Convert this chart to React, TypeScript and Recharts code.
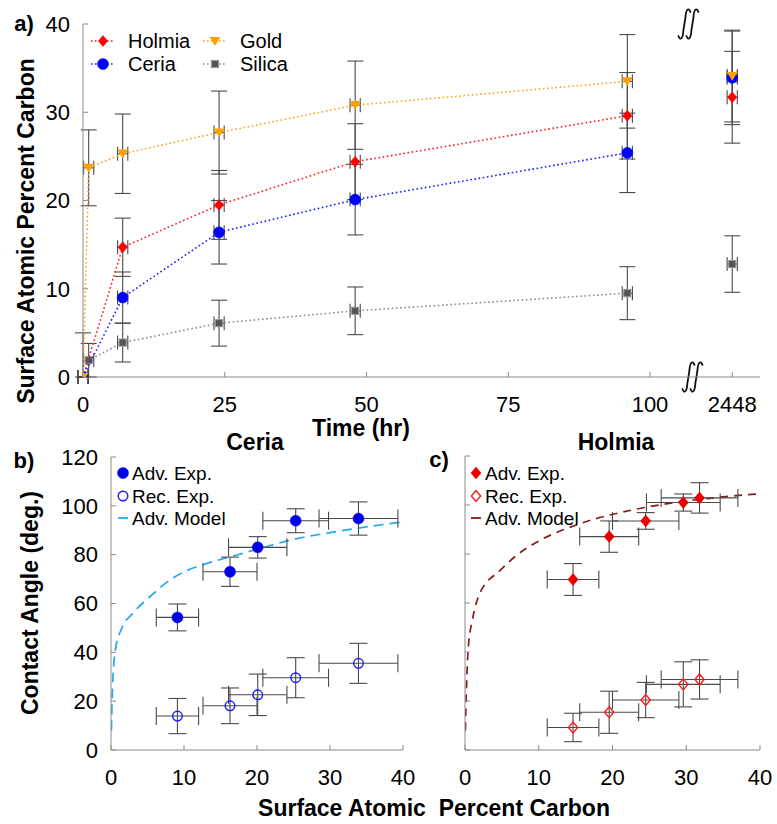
import React from "react"
import {
  ComposedChart,
  Scatter,
  Line,
  XAxis,
  YAxis,
  ErrorBar,
  ReferenceLine,
} from "recharts"

const FONT = "'Liberation Sans', Arial, sans-serif"
const FRAME = "#8a8a8a"
const BAR = "#4a4a4a"

// ---- panel a: carbon uptake vs time (2448 h sits past an axis break) ----
const timeTicks = [0, 25, 50, 75, 100, 114.5]
const timeTopTicks = [0, 25, 50, 75, 100]
const longTimePos = 114.5 // axis position of the 2448 h point
const breakPos = 107.3
const timeErr = 0.9

const holmiaTime = [0, 7, 24, 48, 96]
const holmiaCarbon = [0, 14.7, 19.5, 24.4, 29.6]
const holmiaErr = [0, 3.3, 3.9, 4.3, 4.9]
const holmiaLong = 31.7
const holmiaLongErr = 5.2

const ceriaTime = [0, 7, 24, 48, 96]
const ceriaCarbon = [0, 9.0, 16.4, 20.1, 25.4]
const ceriaErr = [0, 2.9, 3.6, 4.0, 4.5]
const ceriaLong = 33.9
const ceriaLongErr = 5.3

const goldTime = [0, 1, 7, 24, 48, 96]
const goldCarbon = [0, 23.7, 25.3, 27.7, 30.8, 33.5]
const goldErr: (number | number[])[] = [[0, 5], 4.3, 4.5, 4.7, 5.0, 5.3]
const goldLong = 34.1
const goldLongErr = 5.2

const silicaTime = [0, 1, 7, 24, 48, 96]
const silicaCarbon = [0, 1.9, 3.9, 6.1, 7.5, 9.5]
const silicaErr = [0, 1.9, 2.2, 2.6, 2.7, 3.0]
const silicaLong = 12.8
const silicaLongErr = 3.2

// ---- panels b, c: contact angle vs surface carbon ----
const ceriaC = [9.1, 16.3, 20.1, 25.3, 33.9]
const ceriaCErr = [2.9, 3.7, 4.0, 4.5, 5.4]
const ceriaAdv = [54.3, 73.0, 83.0, 93.9, 94.8]
const ceriaAdvErr = [5.5, 6.0, 4.4, 4.9, 6.8]
const ceriaRec = [13.9, 18.1, 22.6, 29.6, 35.5]
const ceriaRecErr = [7.2, 7.3, 8.5, 8.2, 8.2]
const ceriaModelC = [0.05, 0.2, 0.6, 1.5, 3, 5.8, 8, 10.4, 12.7, 16.8, 20, 25.3, 30, 33.9, 40]
const ceriaModelAngle = [8, 25, 41, 50, 56, 64, 69.5, 73.5, 76, 79.5, 82.2, 86.5, 89, 90.9, 93.4]

const holmiaC = [14.65, 19.55, 24.5, 29.6, 31.8]
const holmiaCErr = [3.5, 4.0, 4.5, 5.0, 5.2]
const holmiaAdv = [69.6, 87.1, 93.5, 101.0, 102.9]
const holmiaAdvErr = [6.5, 6.4, 3.4, 3.5, 6.2]
const holmiaRec = [9.2, 15.4, 20.4, 26.8, 28.8]
const holmiaRecErr = [5.8, 8.6, 7.2, 9.2, 8.0]
const holmiaModelC = [0.05, 0.2, 0.45, 1, 2, 4.8, 7, 10.2, 15.6, 22.9, 29.7, 35, 40]
const holmiaModelAngle = [8, 25, 42, 53, 63.9, 73.4, 79.5, 85.6, 92.4, 98.1, 101.5, 103.3, 104.6]

const carbonTicks = [0, 10, 20, 30, 40]
const angleTicks = [0, 20, 40, 60, 80, 100, 120]
const percentTicks = [0, 10, 20, 30, 40]

const pts = (xs: number[], ys: number[], ey: any[], ex: number[] | number) =>
  xs.map((x, i) => ({ x, y: ys[i], ey: ey[i], ex: Array.isArray(ex) ? ex[i] : ex }))

const timeLabel = (v: number) => (v === longTimePos ? "2448" : String(v))
const blank = () => ""

type P = { cx?: number; cy?: number }

const diamond = (color: string, r: number, hollow = false) => (p: P) => {
  const { cx = 0, cy = 0 } = p
  const w = r * 0.85
  return (
    <path
      d={`M${cx},${cy - r}L${cx + w},${cy}L${cx},${cy + r}L${cx - w},${cy}Z`}
      fill={hollow ? "none" : color}
      stroke={color}
      strokeWidth={hollow ? 1.4 : 0.5}
    />
  )
}
const circle = (color: string, r: number, hollow = false) => (p: P) => (
  <circle
    cx={p.cx}
    cy={p.cy}
    r={r}
    fill={hollow ? "none" : color}
    stroke={color}
    strokeWidth={hollow ? 1.4 : 0.5}
  />
)
const triDown = (color: string, r: number) => (p: P) => {
  const { cx = 0, cy = 0 } = p
  return (
    <path
      d={`M${cx - r},${cy - r * 0.75}L${cx + r},${cy - r * 0.75}L${cx},${cy + r * 0.85}Z`}
      fill={color}
    />
  )
}
const square = (color: string, r: number) => (p: P) => {
  const { cx = 0, cy = 0 } = p
  return <rect x={cx - r} y={cy - r} width={r * 2} height={r * 2} fill={color} stroke="#9a9a9a" strokeWidth={1} />
}

const topSeries = [
  {
    name: "Silica",
    color: "#8c8c8c",
    shape: square("#555", 3.6),
    data: pts(silicaTime, silicaCarbon, silicaErr, timeErr),
    long: [{ x: longTimePos, y: silicaLong, ey: silicaLongErr, ex: timeErr }],
  },
  {
    name: "Holmia",
    color: "#ff1a1a",
    shape: diamond("#ff0000", 5.5),
    data: pts(holmiaTime, holmiaCarbon, holmiaErr, timeErr),
    long: [{ x: longTimePos, y: holmiaLong, ey: holmiaLongErr, ex: timeErr }],
  },
  {
    name: "Ceria",
    color: "#1a1aff",
    shape: circle("#0000ff", 5.5),
    data: pts(ceriaTime, ceriaCarbon, ceriaErr, timeErr),
    long: [{ x: longTimePos, y: ceriaLong, ey: ceriaLongErr, ex: timeErr }],
  },
  {
    name: "Gold",
    color: "#ffa31a",
    shape: triDown("#ffa000", 5.5),
    data: pts(goldTime, goldCarbon, goldErr, timeErr),
    long: [{ x: longTimePos, y: goldLong, ey: goldLongErr, ex: timeErr }],
  },
]

const legendA = [
  { name: "Holmia", col: 0, row: 0 },
  { name: "Gold", col: 1, row: 0 },
  { name: "Ceria", col: 0, row: 1 },
  { name: "Silica", col: 1, row: 1 },
]

function BreakMark(props: any) {
  const vb = props.viewBox || {}
  const x = vb.x ?? 0
  const y0 = vb.y ?? 0
  const y1 = y0 + (vb.height ?? 0)
  const s = (cx: number, cy: number) =>
    `M${cx - 6},${cy + 12} C${cx - 4},${cy + 17} ${cx - 1.5},${cy + 15} ${cx - 1},${cy + 6} L${cx + 1},${cy - 6} C${cx + 1.5},${cy - 15} ${cx + 4},${cy - 17} ${cx + 6},${cy - 12}`
  return (
    <g fill="none" stroke="#111" strokeWidth={1.8} strokeLinecap="round">
      <path d={s(x - 7, y0)} />
      <path d={s(x + 1, y0)} />
      <path d={s(x - 3, y1)} />
      <path d={s(x + 5, y1)} />
    </g>
  )
}

const tickFont = { fill: "#000", fontSize: 22 }

function PanelA() {
  return (
    <ComposedChart width={777} height={430} margin={{ top: 24, right: 17, left: 0, bottom: 0 }}>
      <XAxis
        type="number"
        dataKey="x"
        domain={[0, 119.4]}
        allowDataOverflow
        ticks={timeTicks}
        interval={0}
        tickFormatter={timeLabel}
        height={53}
        tickSize={-5}
        tickMargin={24}
        stroke={FRAME}
        tick={tickFont}
      />
      <XAxis
        xAxisId="top"
        orientation="top"
        type="number"
        domain={[0, 119.4]}
        allowDataOverflow
        ticks={timeTopTicks}
        interval={0}
        tickFormatter={blank}
        height={0}
        tickSize={-5}
        stroke={FRAME}
      />
      <YAxis
        type="number"
        dataKey="y"
        domain={[0, 40]}
        allowDataOverflow
        ticks={[0, 10, 20, 30, 40]}
        interval={0}
        width={83}
        tickSize={-5}
        tickMargin={18}
        stroke={FRAME}
        tick={tickFont}
      />
      <YAxis
        yAxisId="right"
        orientation="right"
        type="number"
        domain={[0, 40]}
        allowDataOverflow
        ticks={[0, 10, 20, 30, 40]}
        interval={0}
        width={0}
        tickSize={-5}
        tickFormatter={blank}
        stroke={FRAME}
      />
      <ReferenceLine x={breakPos} stroke="none" label={<BreakMark />} />
      {topSeries.map((s) => (
        <Scatter
          key={s.name}
          name={s.name}
          data={s.data}
          shape={s.shape}
          line={{ stroke: s.color, strokeWidth: 1.6, strokeDasharray: "1.6 2.6" }}
          lineType="joint"
          isAnimationActive={false}
        >
          <ErrorBar dataKey="ey" direction="y" width={8} stroke={BAR} strokeWidth={1.1} />
          <ErrorBar dataKey="ex" direction="x" width={7} stroke={BAR} strokeWidth={1.1} />
        </Scatter>
      ))}
      {topSeries.map((s) => (
        <Scatter key={s.name + "-long"} data={s.long} shape={s.shape} isAnimationActive={false}>
          <ErrorBar dataKey="ey" direction="y" width={8} stroke={BAR} strokeWidth={1.1} />
          <ErrorBar dataKey="ex" direction="x" width={7} stroke={BAR} strokeWidth={1.1} />
        </Scatter>
      ))}
    </ComposedChart>
  )
}

function AnglePanel({
  carbon,
  carbonErr,
  adv,
  advErr,
  rec,
  recErr,
  modelC,
  modelAngle,
  advShape,
  recShape,
  modelColor,
  dash,
  width,
  axisWidth,
  top,
  showY,
}: any) {
  const model = modelC.map((x: number, i: number) => ({ x, y: modelAngle[i] }))
  return (
    <ComposedChart width={width} height={394} margin={{ top, right: 17, left: 0, bottom: 0 }}>
      <XAxis
        type="number"
        dataKey="x"
        domain={[0, 40]}
        allowDataOverflow
        ticks={carbonTicks}
        interval={0}
        height={74}
        tickSize={-5}
        tickMargin={24}
        stroke={FRAME}
        tick={tickFont}
      />
      <XAxis
        xAxisId="top"
        orientation="top"
        type="number"
        domain={[0, 40]}
        allowDataOverflow
        ticks={percentTicks}
        interval={0}
        height={0}
        tickSize={-5}
        tickFormatter={blank}
        stroke={FRAME}
      />
      <YAxis
        type="number"
        dataKey="y"
        domain={[0, 120]}
        allowDataOverflow
        ticks={angleTicks}
        interval={0}
        width={axisWidth}
        tickSize={-5}
        tickMargin={18}
        tickFormatter={showY ? undefined : blank}
        stroke={FRAME}
        tick={tickFont}
      />
      <YAxis
        yAxisId="right"
        orientation="right"
        type="number"
        domain={[0, 120]}
        allowDataOverflow
        ticks={angleTicks}
        interval={0}
        width={0}
        tickSize={-5}
        tickFormatter={blank}
        stroke={FRAME}
      />
      <Line
        data={model}
        dataKey="y"
        type="monotone"
        dot={false}
        stroke={modelColor}
        strokeWidth={1.7}
        strokeDasharray={dash}
        isAnimationActive={false}
      />
      <Scatter data={pts(carbon, rec, recErr, carbonErr)} shape={recShape} isAnimationActive={false}>
        <ErrorBar dataKey="ey" direction="y" width={9} stroke={BAR} strokeWidth={1.1} />
        <ErrorBar dataKey="ex" direction="x" width={9} stroke={BAR} strokeWidth={1.1} />
      </Scatter>
      <Scatter data={pts(carbon, adv, advErr, carbonErr)} shape={advShape} isAnimationActive={false}>
        <ErrorBar dataKey="ey" direction="y" width={9} stroke={BAR} strokeWidth={1.1} />
        <ErrorBar dataKey="ex" direction="x" width={9} stroke={BAR} strokeWidth={1.1} />
      </Scatter>
    </ComposedChart>
  )
}

function Txt({ x, y, size = 23, bold = true, rotate = false, children }: any) {
  return (
    <div
      style={{
        position: "absolute",
        left: x,
        top: y,
        transform: `translate(-50%, -50%)${rotate ? " rotate(-90deg)" : ""}`,
        fontSize: size,
        fontWeight: bold ? 700 : 400,
        lineHeight: 1,
        whiteSpace: "pre",
        color: "#000",
      }}
    >
      {children}
    </div>
  )
}

function LegendRow({ x, y, textX, size, icon, label }: any) {
  return (
    <>
      <svg style={{ position: "absolute", left: x - 14, top: y - 8 }} width={28} height={16}>
        {icon}
      </svg>
      <div
        style={{
          position: "absolute",
          left: textX,
          top: y,
          transform: "translateY(-50%)",
          fontSize: size,
          lineHeight: 1,
          whiteSpace: "pre",
        }}
      >
        {label}
      </div>
    </>
  )
}

export default function App() {
  const byName = Object.fromEntries(topSeries.map((s) => [s.name, s]))
  return (
    <div
      style={{
        position: "absolute",
        left: 0,
        top: 0,
        width: 777,
        height: 824,
        background: "#fff",
        fontFamily: FONT,
        overflow: "hidden",
      }}
    >
      <div style={{ position: "absolute", left: 0, top: 0 }}>
        <PanelA />
      </div>
      <div style={{ position: "absolute", left: 0, top: 430 }}>
        <AnglePanel
          carbon={ceriaC}
          carbonErr={ceriaCErr}
          adv={ceriaAdv}
          advErr={ceriaAdvErr}
          rec={ceriaRec}
          recErr={ceriaRecErr}
          modelC={ceriaModelC}
          modelAngle={ceriaModelAngle}
          advShape={circle("#0000e6", 5.5)}
          recShape={circle("#1a1aff", 4.8, true)}
          modelColor="#1faaf0"
          dash="10 6"
          width={420}
          axisWidth={111}
          top={27}
          showY
        />
      </div>
      <div style={{ position: "absolute", left: 420, top: 430 }}>
        <AnglePanel
          carbon={holmiaC}
          carbonErr={holmiaCErr}
          adv={holmiaAdv}
          advErr={holmiaAdvErr}
          rec={holmiaRec}
          recErr={holmiaRecErr}
          modelC={holmiaModelC}
          modelAngle={holmiaModelAngle}
          advShape={diamond("#e60000", 6)}
          recShape={diamond("#ff1a1a", 5.5, true)}
          modelColor="#8b1a1a"
          dash="8 6"
          width={357}
          axisWidth={45}
          top={26}
          showY={false}
        />
      </div>

      {legendA.map((l) => {
        const s = byName[l.name]
        const x = l.col === 0 ? 103 : 215
        const y = l.row === 0 ? 40.5 : 63.5
        return (
          <LegendRow
            key={l.name}
            x={x}
            y={y}
            textX={l.col === 0 ? 128 : 240}
            size={20}
            label={l.name}
            icon={
              <>
                <line x1={2} y1={8} x2={26} y2={8} stroke={s.color} strokeWidth={1.6} strokeDasharray="1.6 2.4" />
                {s.shape({ cx: 14, cy: 8 })}
              </>
            }
          />
        )
      })}

      <LegendRow x={123} y={473} textX={132} size={19} label="Adv. Exp." icon={circle("#0000e6", 5.5)({ cx: 14, cy: 8 })} />
      <LegendRow x={123} y={496} textX={132} size={19} label="Rec. Exp." icon={circle("#1a1aff", 4.8, true)({ cx: 14, cy: 8 })} />
      <LegendRow
        x={123}
        y={518}
        textX={132}
        size={19}
        label="Adv. Model"
        icon={<line x1={9} y1={8} x2={19} y2={8} stroke="#1faaf0" strokeWidth={1.8} />}
      />
      <LegendRow x={476} y={473} textX={485} size={19} label="Adv. Exp." icon={diamond("#e60000", 6)({ cx: 14, cy: 8 })} />
      <LegendRow x={476} y={496} textX={485} size={19} label="Rec. Exp." icon={diamond("#ff1a1a", 5.5, true)({ cx: 14, cy: 8 })} />
      <LegendRow
        x={476}
        y={518}
        textX={485}
        size={19}
        label="Adv. Model"
        icon={<line x1={9} y1={8} x2={19} y2={8} stroke="#8b1a1a" strokeWidth={1.8} />}
      />

      <Txt x={24} y={24} size={22}>a)</Txt>
      <Txt x={26} y={231} rotate>Surface Atomic Percent Carbon</Txt>
      <Txt x={361} y={428}>Time (hr)</Txt>
      <Txt x={24} y={461} size={22}>b)</Txt>
      <Txt x={439} y={460} size={22}>c)</Txt>
      <Txt x={255} y={442}>Ceria</Txt>
      <Txt x={616} y={442}>Holmia</Txt>
      <Txt x={30} y={603} rotate>Contact Angle (deg.)</Txt>
      <Txt x={434} y={808}>{"Surface Atomic  Percent Carbon"}</Txt>
    </div>
  )
}
